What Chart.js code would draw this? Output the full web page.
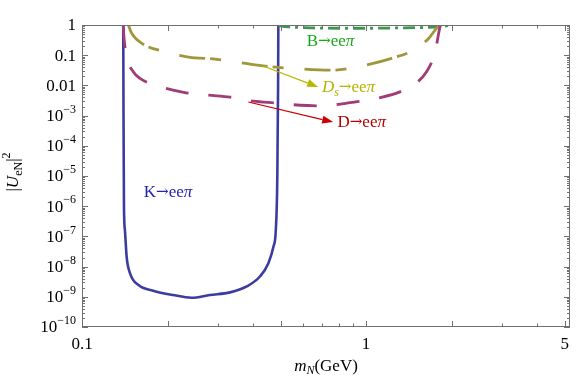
<!DOCTYPE html>
<html>
<head>
<meta charset="utf-8">
<script src="https://cdn.jsdelivr.net/npm/chart.js@4"></script>
<style>
  html, body { margin: 0; padding: 0; background: #fff; }
</style>
</head>
<body>
<canvas id="chart" width="581" height="387"></canvas>
<script>
// curves: m_N (GeV) and |U_eN|^2
const kMass = [0.1397, 0.1400, 0.1405, 0.1416, 0.1436, 0.1476, 0.158, 0.178, 0.209, 0.243, 0.282, 0.332, 0.38, 0.423, 0.453, 0.472, 0.481, 0.487, 0.490, 0.491];
const kU2   = [1, 1e-3, 1e-6, 1.6e-7, 2.1e-8, 6e-9, 2.45e-9, 1.6e-9, 1.15e-9, 9.3e-10, 1.15e-9, 1.4e-9, 2.2e-9, 4.7e-9, 1.3e-8, 4.6e-8, 1.6e-7, 1e-5, 1e-2, 1];

const dMass = [0.1397, 0.1405, 0.1436, 0.1517, 0.160, 0.188, 0.228, 0.275, 0.332, 0.401, 0.485, 0.586, 0.708, 0.855, 1.09, 1.39, 1.63, 1.75, 1.82, 1.83];
const dU2   = [1, 0.4, 0.089, 0.028, 0.017, 0.0091, 0.0059, 0.0048, 0.0041, 0.003, 0.0026, 0.0022, 0.0021, 0.0026, 0.0037, 0.0079, 0.028, 0.13, 0.87, 1];

const dsMass = [0.1456, 0.1496, 0.1644, 0.196, 0.243, 0.271, 0.327, 0.434, 0.539, 0.757, 0.903, 1.23, 1.47, 1.66, 1.77, 1.82];
const dsU2   = [1, 0.53, 0.23, 0.13, 0.083, 0.079, 0.065, 0.044, 0.037, 0.032, 0.039, 0.079, 0.148, 0.36, 0.78, 1];

const bMass = [0.491, 0.5, 0.55, 0.65, 0.8, 1.0, 1.3, 1.6, 1.85, 2.0];
const bU2   = [1, 0.93, 0.85, 0.8, 0.78, 0.78, 0.8, 0.83, 0.9, 1];

// axis ticks
const xTickValues = [0.1, 1, 5];
const xTickLabels = ['0.1', '1', '5'];
const xMajor = [0.1, 0.2, 0.5, 1, 2, 5];
const xMinor = [0.3, 0.4, 0.6, 0.7, 0.8, 0.9, 3, 4];
const yTickValues = [1, 0.1, 0.01, 1e-3, 1e-4, 1e-5, 1e-6, 1e-7, 1e-8, 1e-9, 1e-10];
const yTickLabels = ['1', '0.1', '0.01', '10^−3', '10^−4', '10^−5', '10^−6', '10^−7', '10^−8', '10^−9', '10^−10'];

// labels next to the curves (data coordinates)
const labels = [
  { x: 0.165, y: 2.0e-6, color: '#2424b4', runs: [['K', ''], ['→', 'a'], ['ee', ''], ['π', 'i']] },
  { x: 0.618, y: 0.2, color: '#18a818', runs: [['B', ''], ['→', 'a'], ['ee', ''], ['π', 'i']] },
  { x: 0.699, y: 0.0061, color: '#b4b400', runs: [['D', 'i'], ['s', 'is'], ['→', 'a'], ['ee', ''], ['π', 'i']] },
  { x: 0.793, y: 4.1e-4, color: '#b40000', runs: [['D', ''], ['→', 'a'], ['ee', ''], ['π', 'i']] }
];
const arrows = [
  { from: [0.434, 0.0439], to: [0.678, 0.00885], color: '#b8b800' },
  { from: [0.385, 0.00282], to: [0.766, 0.00061], color: '#c80000' }
];

const FONT = '"Liberation Serif", "Times New Roman", serif';

function pts(xs, ys) {
  return xs.map((x, i) => ({ x: x, y: ys[i] }));
}

function line(label, xs, ys, color, dash, width) {
  return {
    label: label,
    data: pts(xs, ys),
    showLine: true,
    borderColor: color,
    borderWidth: width,
    borderDash: dash,
    pointRadius: 0,
    cubicInterpolationMode: 'monotone',
    fill: false
  };
}

function fontFor(style) {
  if (style === 'a') return '15px "DejaVu Serif"';
  const size = style.indexOf('s') >= 0 ? 12 : 17;
  return (style.indexOf('i') >= 0 ? 'italic ' : '') + size + 'px ' + FONT;
}

// draw a list of text pieces side by side, small ones shifted for sub/superscript
function drawRuns(ctx, runs, x, y, align) {
  let w = 0;
  runs.forEach(r => { ctx.font = r.font; r.w = ctx.measureText(r.t).width; w += r.w; });
  let cx = align === 'right' ? x - w : align === 'center' ? x - w / 2 : x;
  runs.forEach(r => {
    ctx.font = r.font;
    ctx.fillText(r.t, cx, y + (r.dy || 0));
    cx += r.w;
  });
}

function drawArrow(ctx, x1, y1, x2, y2, color) {
  const a = Math.atan2(y2 - y1, x2 - x1);
  const len = 11, half = 4;
  ctx.strokeStyle = color;
  ctx.fillStyle = color;
  ctx.lineWidth = 1.2;
  ctx.beginPath();
  ctx.moveTo(x1, y1);
  ctx.lineTo(x2 - len * Math.cos(a), y2 - len * Math.sin(a));
  ctx.stroke();
  ctx.beginPath();
  ctx.moveTo(x2, y2);
  ctx.lineTo(x2 - len * Math.cos(a) + half * Math.sin(a), y2 - len * Math.sin(a) - half * Math.cos(a));
  ctx.lineTo(x2 - len * Math.cos(a) - half * Math.sin(a), y2 - len * Math.sin(a) + half * Math.cos(a));
  ctx.closePath();
  ctx.fill();
}

const framePlugin = {
  id: 'frame',
  afterDatasetsDraw(chart) {
    const ctx = chart.ctx;
    const xs = chart.scales.x, ys = chart.scales.y;
    ctx.save();
    ctx.textBaseline = 'alphabetic';
    arrows.forEach(a => {
      drawArrow(ctx, xs.getPixelForValue(a.from[0]), ys.getPixelForValue(a.from[1]),
        xs.getPixelForValue(a.to[0]), ys.getPixelForValue(a.to[1]), a.color);
    });
    labels.forEach(l => {
      ctx.fillStyle = l.color;
      const runs = l.runs.map(r => ({
        t: r[0],
        font: fontFor(r[1]),
        dy: r[1] === 'is' ? 4 : (r[1] === 'a' ? -1 : 0)
      }));
      drawRuns(ctx, runs, xs.getPixelForValue(l.x), ys.getPixelForValue(l.y), 'left');
    });
    ctx.restore();
  },
  afterDraw(chart) {
    const ctx = chart.ctx;
    const a = chart.chartArea;
    const xs = chart.scales.x, ys = chart.scales.y;
    ctx.save();
    ctx.strokeStyle = '#707070';
    ctx.lineWidth = 1;
    ctx.strokeRect(a.left + 0.5, a.top + 0.5, a.right - a.left - 1, a.bottom - a.top - 1);

    ctx.beginPath();
    const xTick = (v, len) => {
      const p = Math.round(xs.getPixelForValue(v)) + 0.5;
      ctx.moveTo(p, a.bottom); ctx.lineTo(p, a.bottom - len);
      ctx.moveTo(p, a.top); ctx.lineTo(p, a.top + len);
    };
    const yTick = (v, len) => {
      const p = Math.round(ys.getPixelForValue(v)) + 0.5;
      ctx.moveTo(a.left, p); ctx.lineTo(a.left + len, p);
      ctx.moveTo(a.right, p); ctx.lineTo(a.right - len, p);
    };
    xMajor.forEach(v => xTick(v, 6));
    xMinor.forEach(v => xTick(v, 3.5));
    yTickValues.forEach(v => yTick(v, 6));
    yTickValues.slice(1).forEach(v => {
      for (let k = 2; k <= 9; k++) yTick(v * k, 3);
    });
    ctx.stroke();

    // tick labels
    ctx.fillStyle = '#000';
    ctx.textBaseline = 'alphabetic';
    xTickValues.forEach((v, i) => {
      drawRuns(ctx, [{ t: xTickLabels[i], font: '17px ' + FONT }], xs.getPixelForValue(v), 349, 'center');
    });
    ctx.textBaseline = 'middle';
    yTickValues.forEach((v, i) => {
      const parts = yTickLabels[i].split('^');
      const runs = [{ t: parts[0], font: '17px ' + FONT }];
      if (parts[1]) runs.push({ t: parts[1], font: '12px ' + FONT, dy: -7 });
      drawRuns(ctx, runs, 76, ys.getPixelForValue(v) + 1, 'right');
    });

    // axis titles
    ctx.textBaseline = 'alphabetic';
    drawRuns(ctx, [
      { t: 'm', font: 'italic 17px ' + FONT },
      { t: 'N', font: 'italic 12px ' + FONT, dy: 3 },
      { t: '(GeV)', font: '17px ' + FONT }
    ], (a.left + a.right) / 2, 371, 'center');

    ctx.translate(18, 172);
    ctx.rotate(-Math.PI / 2);
    drawRuns(ctx, [
      { t: '|', font: '17px ' + FONT },
      { t: 'U', font: 'italic 17px ' + FONT },
      { t: 'eN', font: '12px ' + FONT, dy: 4 },
      { t: '|', font: '17px ' + FONT },
      { t: '2', font: '12px ' + FONT, dy: -8 }
    ], 0, 0, 'center');
    ctx.restore();
  }
};

const ctx = document.getElementById('chart').getContext('2d');
const myChart = new Chart(ctx, {
  type: 'scatter',
  data: {
    datasets: [
      line('D→eeπ', dMass, dU2, '#a03c78', [23, 20], 2.8),
      line('Ds→eeπ', dsMass, dsU2, '#a0963c', [26, 5, 11, 21], 2.8),
      line('B→eeπ', bMass, bU2, '#3c9650', [12, 5, 3, 5], 2.8),
      line('K→eeπ', kMass, kU2, '#3c3ca0', [], 2.6)
    ]
  },
  options: {
    responsive: false,
    animation: false,
    layout: { padding: { left: 82, right: 11, top: 25, bottom: 60 } },
    plugins: { legend: { display: false }, tooltip: { enabled: false } },
    scales: {
      x: { type: 'logarithmic', min: 0.1, max: 5.22, display: false },
      y: { type: 'logarithmic', min: 1e-10, max: 1, display: false }
    }
  },
  plugins: [framePlugin]
});
</script>
</body>
</html>
